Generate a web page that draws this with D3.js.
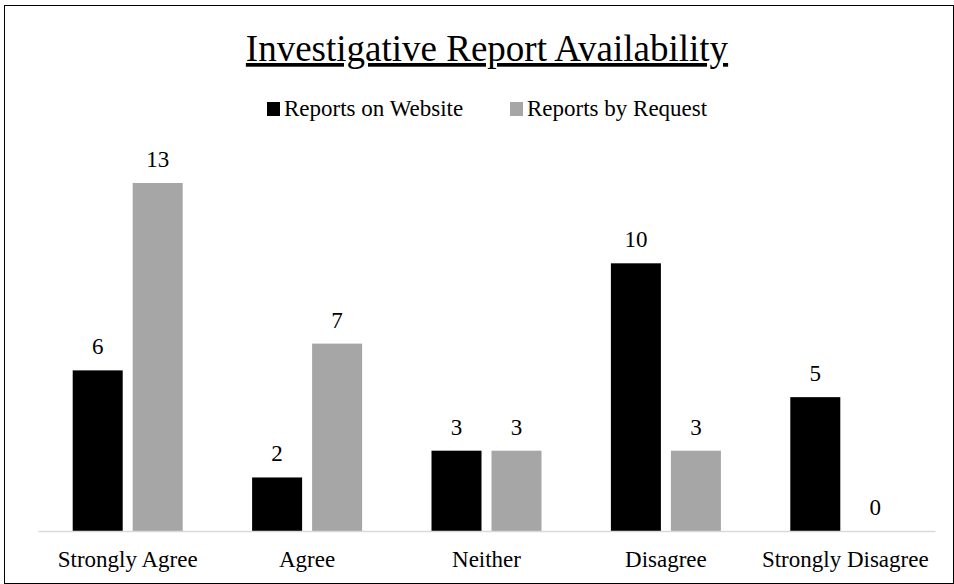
<!DOCTYPE html>
<html><head><meta charset="utf-8">
<script src="https://cdn.jsdelivr.net/npm/d3@7"></script>
<style>body{margin:0;background:#fff}</style>
</head><body>
<svg id="c" width="954" height="584"></svg>
<script>
const categories = ["Strongly Agree","Agree","Neither","Disagree","Strongly Disagree"];
const seriesNames = ["Reports on Website","Reports by Request"];
const website = [6,2,3,10,5];
const request = [13,7,3,3,0];
const colors = ["#000000","#a6a6a6"];
const FONT = "'Liberation Serif', Tinos, 'Times New Roman', 'DejaVu Serif', serif";

const svg = d3.select("#c").attr("font-family", FONT);
svg.append("rect").attr("x",4.5).attr("y",5.5).attr("width",949).attr("height",578)
  .attr("fill","#fff").attr("stroke","#000").attr("stroke-width",1);

const plot = {left:38, right:935, bottom:531};
const x0 = d3.scaleBand().domain(categories).range([plot.left, plot.right]).paddingInner(0).paddingOuter(0);
const x1 = d3.scaleBand().domain(seriesNames).range([0, 110]).paddingInner(1/6);
const y = d3.scaleLinear().domain([0,13]).range([plot.bottom, 183]);

const data = categories.map((c,i)=>({cat:c, vals:[website[i], request[i]]}));

svg.append("text").attr("x",487).attr("y",61).attr("text-anchor","middle")
  .attr("font-family",FONT).attr("font-size",37).attr("text-decoration","underline").attr("fill","#000")
  .text("Investigative Report Availability");

// legend
const leg = [{x:267, name:seriesNames[0], c:colors[0]},{x:510, name:seriesNames[1], c:colors[1]}];
leg.forEach(l=>{
  svg.append("rect").attr("x",l.x).attr("y",102).attr("width",13).attr("height",14).attr("fill",l.c);
  svg.append("text").attr("x",l.x+17).attr("y",116).attr("font-family",FONT).attr("font-size",23).attr("fill","#000").text(l.name);
});

const g = svg.selectAll("g.grp").data(data).enter().append("g")
  .attr("transform",d=>`translate(${x0(d.cat)+x0.bandwidth()/2-55},0)`);
g.selectAll("rect").data(d=>d.vals.map((v,j)=>({v, s:seriesNames[j], c:colors[j]}))).enter()
  .append("rect").attr("x",d=>x1(d.s)).attr("width",x1.bandwidth())
  .attr("y",d=>y(d.v)).attr("height",d=>y(0)-y(d.v)).attr("fill",d=>d.c);
g.selectAll("text").data(d=>d.vals.map((v,j)=>({v, s:seriesNames[j]}))).enter()
  .append("text").attr("x",d=>x1(d.s)+x1.bandwidth()/2).attr("y",d=>y(d.v)-16)
  .attr("text-anchor","middle").attr("font-family",FONT).attr("font-size",23).attr("fill","#000").text(d=>d.v);

const ax = svg.append("g").attr("transform",`translate(0,${plot.bottom})`)
  .call(d3.axisBottom(x0).tickSize(0).tickPadding(19));
ax.attr("font-family",FONT);
ax.select(".domain").attr("stroke","#d9d9d9").attr("stroke-width",1.5);
ax.selectAll("text").attr("font-size",23).attr("font-family",FONT).attr("fill","#000")
  .attr("dy",null).attr("y",36);
</script>
</body></html>
